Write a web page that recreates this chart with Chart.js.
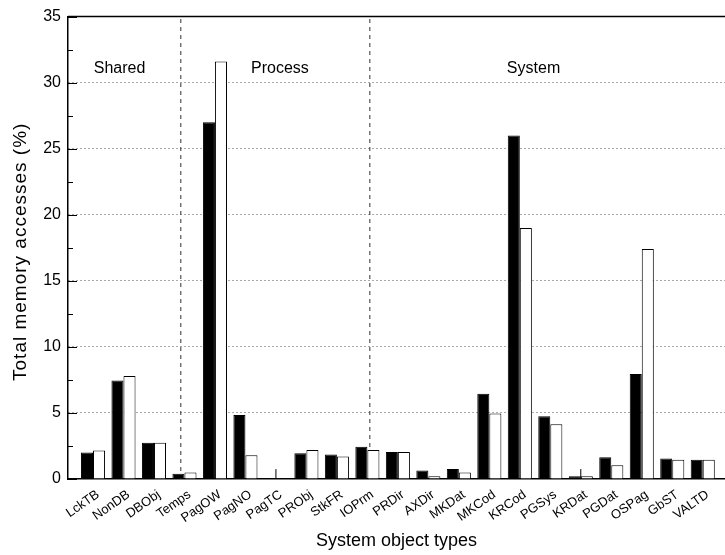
<!DOCTYPE html>
<html>
<head>
<meta charset="utf-8">
<script src="https://cdn.jsdelivr.net/npm/chart.js@4/dist/chart.umd.min.js"></script>
<style>
  body { margin: 0; background: #fff; }
</style>
</head>
<body>
<canvas id="acessosMemoria" width="725" height="555"></canvas>
<script>
// categorias e valores
const categorias = ['LckTB', 'NonDB', 'DBObj', 'Temps', 'PagOW', 'PagNO', 'PagTC', 'PRObj', 'StkFR', 'IOPrm',
  'PRDir', 'AXDir', 'MKDat', 'MKCod', 'KRCod', 'PGSys', 'KRDat', 'PGDat', 'OSPag', 'GbST', 'VALTD'];
const serieCheia = [2.0, 7.45, 2.75, 0.4, 27.0, 4.85, 0, 1.95, 1.85, 2.45,
  2.05, 0.65, 0.75, 6.45, 26.0, 4.75, 0.2, 1.65, 7.95, 1.55, 1.45];
const serieVazia = [2.15, 7.8, 2.75, 0.5, 31.6, 1.8, 0, 2.2, 1.7, 2.2,
  2.05, 0.2, 0.5, 4.95, 19.0, 4.15, 0.2, 1.05, 17.4, 1.45, 1.45];
// tracos finos que aparecem em PagTC e KRDat
const tracosIndice = [6, 16];
const tracosValor = [0.75, 0.75];
// secoes e divisorias
const secoes = ['Shared', 'Process', 'System'];
const secoesX = [0.87, 6.13, 14.45];
const secoesY = 31.05;
const divisorias = [2.88, 9.08];
const yTicks = [0, 5, 10, 15, 20, 25, 30, 35];
const tituloY = 'Total memory accesses (%)';

const fonte = '"Liberation Sans", Arial, sans-serif';

const datasets = [
  {
    type: 'bar',
    data: serieCheia.map((v, i) => ({ x: i, y: v })),
    backgroundColor: '#000',
    borderColor: '#000',
    borderWidth: 1,
    order: 1
  },
  {
    type: 'bar',
    data: serieVazia.map((v, i) => ({ x: i, y: v })),
    backgroundColor: '#fff',
    borderColor: '#000',
    borderWidth: 1,
    order: 1
  }
];

divisorias.forEach(d => {
  datasets.push({
    type: 'line',
    data: [{ x: d, y: 0 }, { x: d, y: 35 }],
    borderColor: '#333',
    borderWidth: 1,
    borderDash: [4, 4],
    pointRadius: 0,
    order: 3
  });
});

tracosIndice.forEach((c, k) => {
  datasets.push({
    type: 'line',
    data: [{ x: c, y: 0 }, { x: c, y: tracosValor[k] }],
    borderColor: '#000',
    borderWidth: 1,
    pointRadius: 0,
    order: 0
  });
});

const extras = {
  id: 'extras',
  afterDatasetsDraw(chart) {
    const { ctx, chartArea, scales } = chart;
    const y = scales.y;
    const x = scales.x;
    ctx.save();
    // tracos internos no eixo y
    ctx.strokeStyle = '#000';
    ctx.lineWidth = 1;
    y.ticks.forEach(t => {
      const py = Math.round(y.getPixelForValue(t.value)) + 0.5;
      const len = t.value % 5 === 0 ? 9 : 5;
      ctx.beginPath();
      ctx.moveTo(chartArea.left, py);
      ctx.lineTo(chartArea.left + len, py);
      ctx.stroke();
    });
    // borda superior
    ctx.lineWidth = 1.5;
    ctx.beginPath();
    ctx.moveTo(chartArea.left, chartArea.top);
    ctx.lineTo(chartArea.right, chartArea.top);
    ctx.stroke();
    // nomes das secoes
    ctx.fillStyle = '#000';
    ctx.font = '16px ' + fonte;
    ctx.textAlign = 'center';
    ctx.textBaseline = 'middle';
    secoes.forEach((s, i) => {
      ctx.fillText(s, x.getPixelForValue(secoesX[i]), y.getPixelForValue(secoesY));
    });
    // titulo do eixo y
    ctx.translate(21, (chartArea.top + chartArea.bottom) / 2 + 4);
    ctx.rotate(-Math.PI / 2);
    ctx.font = '19px ' + fonte;
    ctx.letterSpacing = '1px';
    ctx.fillText(tituloY, 0, 0);
    ctx.restore();
  }
};

new Chart(document.getElementById('acessosMemoria'), {
  type: 'bar',
  data: { datasets },
  plugins: [extras],
  options: {
    responsive: false,
    animation: false,
    layout: { padding: { top: 12, right: 0, left: 0, bottom: 0 } },
    categoryPercentage: 0.79,
    barPercentage: 1.0,
    plugins: {
      legend: { display: false },
      tooltip: { enabled: false }
    },
    scales: {
      x: {
        type: 'linear',
        offset: false,
        min: -0.82,
        max: 20.73,
        afterFit: s => { s.height = 76; },
        grid: { offset: false, drawOnChartArea: false, drawTicks: false },
        border: { color: '#000', width: 1.5 },
        ticks: {
          stepSize: 1,
          includeBounds: false,
          autoSkip: false,
          minRotation: 35,
          maxRotation: 35,
          padding: 8,
          labelOffset: 5,
          color: '#000',
          font: { family: fonte, size: 13 },
          callback: v => Number.isInteger(v) ? categorias[v] : ''
        },
        title: {
          display: true,
          text: 'System object types',
          color: '#000',
          font: { family: fonte, size: 18 },
          padding: { top: 0, bottom: 3 }
        }
      },
      y: {
        min: 0,
        max: 35,
        afterFit: s => { s.width = 68; },
        afterBuildTicks: s => {
          const t = [];
          for (let v = 0; v <= 35; v += 2.5) t.push({ value: v });
          s.ticks = t;
        },
        grid: {
          drawTicks: false,
          lineWidth: 1,
          color: c => (c.tick && yTicks.includes(c.tick.value) && c.tick.value > 0 && c.tick.value < 35) ? '#555' : 'rgba(0,0,0,0)'
        },
        border: { color: '#000', width: 1.5, dash: [1, 3] },
        ticks: {
          padding: 7,
          color: '#000',
          font: { family: fonte, size: 16 },
          callback: v => yTicks.includes(v) ? v : ''
        },
        title: { display: false }
      }
    }
  }
});
</script>
</body>
</html>
